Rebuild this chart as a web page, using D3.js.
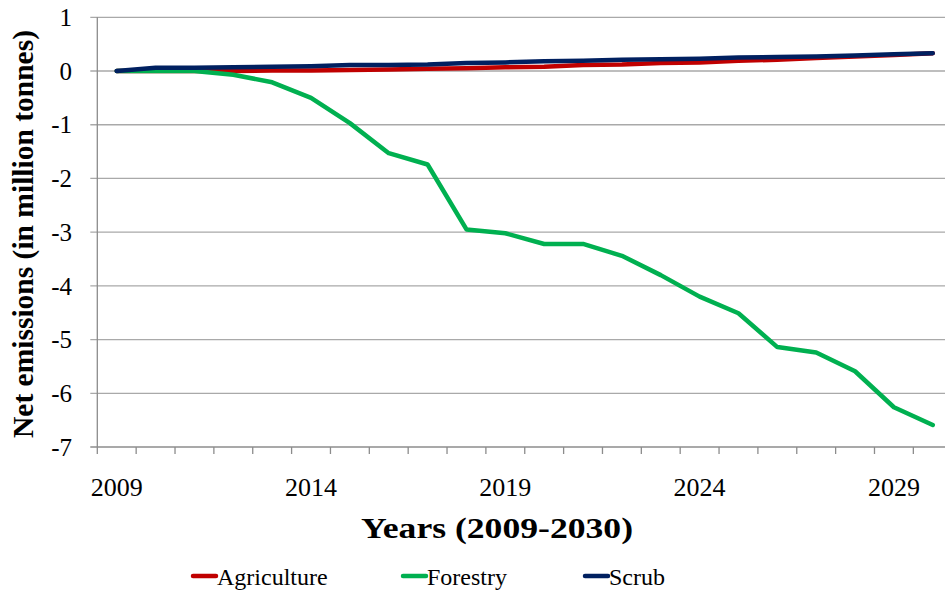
<!DOCTYPE html>
<html>
<head>
<meta charset="utf-8">
<script src="https://cdn.jsdelivr.net/npm/d3@7"></script>
<style>
  html, body { margin: 0; padding: 0; background: #fff; }
  svg { display: block; }
</style>
</head>
<body>
<svg id="chart" width="945" height="591"></svg>
<script>
// data
var years = d3.range(2009, 2031).map(String);
var yTicks = [1, 0, -1, -2, -3, -4, -5, -6, -7];
var xLabelYears = ["2009", "2014", "2019", "2024", "2029"];

var agriculture = [0, 0, 0, 0, 0.01, 0.01, 0.02, 0.03, 0.04, 0.05, 0.07,
                   0.08, 0.11, 0.12, 0.15, 0.16, 0.19, 0.21, 0.24, 0.27, 0.30, 0.33];
var forestry = [0, 0, 0, -0.07, -0.21, -0.50, -0.97, -1.53, -1.74, -2.95, -3.02,
                -3.22, -3.22, -3.44, -3.80, -4.20, -4.51, -5.14, -5.24, -5.59, -6.26, -6.59];
var scrub = [0, 0.06, 0.06, 0.07, 0.08, 0.09, 0.11, 0.11, 0.12, 0.15, 0.16,
             0.18, 0.19, 0.21, 0.22, 0.23, 0.25, 0.26, 0.27, 0.29, 0.31, 0.33];

var seriesNames = ["Agriculture", "Forestry", "Scrub"];
var seriesColors = ["#c00000", "#00b050", "#002060"];
var seriesValues = [agriculture, forestry, scrub];

(function () {
  var FONT = "'Liberation Serif'";
  var svg = d3.select("#chart");

  // plot box (the right edge runs past the picture, as in the reference)
  var pLeft = 97.3, pRight = 952.2, pTop = 17.3, pBottom = 447;

  var x = d3.scaleBand().domain(years).range([pLeft, pRight]);
  var y = d3.scaleLinear().domain([-7, 1]).range([pBottom, pTop]);
  var cx = function (yr) { return x(yr) + x.bandwidth() / 2; };

  // horizontal gridlines, they also act as y tick marks left of the axis
  svg.append("g").selectAll("line")
    .data(yTicks)
    .enter().append("line")
    .attr("x1", pLeft - 7).attr("x2", pRight)
    .attr("y1", function (d) { return y(d); })
    .attr("y2", function (d) { return y(d); })
    .attr("stroke", function (d) { return d === -7 ? "#8c8c8c" : "#a9a9a9"; })
    .attr("stroke-width", 1.3);

  // y axis line
  svg.append("line")
    .attr("x1", pLeft).attr("x2", pLeft)
    .attr("y1", pTop).attr("y2", pBottom)
    .attr("stroke", "#8c8c8c").attr("stroke-width", 1.3);

  // x tick marks on category boundaries
  var boundaries = years.map(function (yr) { return x(yr); }).concat([pRight]);
  svg.append("g").selectAll("line")
    .data(boundaries)
    .enter().append("line")
    .attr("x1", function (d) { return d; }).attr("x2", function (d) { return d; })
    .attr("y1", pBottom).attr("y2", pBottom + 7)
    .attr("stroke", "#8c8c8c").attr("stroke-width", 1.3);

  // y tick labels
  svg.append("g").selectAll("text")
    .data(yTicks)
    .enter().append("text")
    .attr("x", 72)
    .attr("y", function (d) { return y(d); })
    .attr("dy", "0.35em")
    .attr("text-anchor", "end")
    .attr("font-size", 25)
    .attr("fill", "#000")
    .style("font-family", FONT)
    .text(function (d) { return d; });

  // x tick labels
  svg.append("g").selectAll("text")
    .data(xLabelYears)
    .enter().append("text")
    .attr("x", function (d) { return cx(d); })
    .attr("y", 496)
    .attr("text-anchor", "middle")
    .attr("font-size", 26)
    .attr("fill", "#000")
    .style("font-family", FONT)
    .text(function (d) { return d; });

  // axis titles
  svg.append("text")
    .attr("x", 497).attr("y", 538)
    .attr("text-anchor", "middle")
    .attr("font-size", 30).attr("font-weight", "bold")
    .attr("textLength", 272).attr("lengthAdjust", "spacingAndGlyphs")
    .style("font-family", FONT)
    .text("Years (2009-2030)");

  svg.append("text")
    .attr("transform", "translate(33,234) rotate(-90)")
    .attr("text-anchor", "middle")
    .attr("font-size", 29).attr("font-weight", "bold")
    .attr("textLength", 408).attr("lengthAdjust", "spacingAndGlyphs")
    .style("font-family", FONT)
    .text("Net emissions (in million tonnes)");

  // series lines
  var line = d3.line()
    .x(function (d, i) { return cx(years[i]); })
    .y(function (d) { return y(d); });

  svg.append("g").selectAll("path")
    .data(seriesValues)
    .enter().append("path")
    .attr("d", function (d) { return line(d); })
    .attr("fill", "none")
    .attr("stroke", function (d, i) { return seriesColors[i]; })
    .attr("stroke-width", 4.5)
    .attr("stroke-linejoin", "round")
    .attr("stroke-linecap", "round");

  // legend
  var legendX = [193, 403, 585];
  var legend = svg.append("g").selectAll("g")
    .data(seriesNames)
    .enter().append("g")
    .attr("transform", function (d, i) { return "translate(" + legendX[i] + ",576)"; });

  legend.append("line")
    .attr("x1", 0).attr("x2", 23)
    .attr("y1", 0).attr("y2", 0)
    .attr("stroke", function (d, i) { return seriesColors[i]; })
    .attr("stroke-width", 4.5)
    .attr("stroke-linecap", "round");

  legend.append("text")
    .attr("x", 24).attr("y", 9)
    .attr("font-size", 24)
    .attr("fill", "#000")
    .style("font-family", FONT)
    .text(function (d) { return d; });
})();
</script>
</body>
</html>
